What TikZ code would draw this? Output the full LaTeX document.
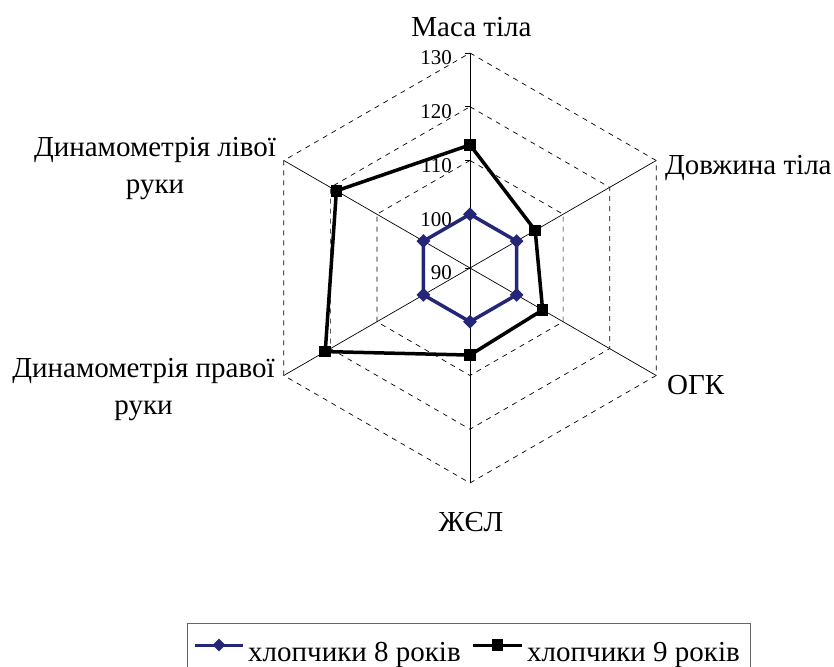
\documentclass[tikz,border=0pt]{standalone}
\usepackage{fontspec}
\setmainfont{Liberation Serif}
\usetikzlibrary{shapes.geometric}
\definecolor{navy}{RGB}{38,38,120}
\begin{document}
\begin{tikzpicture}[x=1pt,y=1pt,
  gridline/.style={draw=black,line width=0.7pt,dash pattern=on 5pt off 5pt},
  axisline/.style={draw=black,line width=0.7pt},
  axlabel/.style={font=\fontsize{29}{37}\selectfont,inner sep=0pt},
  ticklabel/.style={font=\fontsize{21}{24}\selectfont,inner sep=0pt,anchor=base east},
  bluemark/.style={diamond,fill=navy,draw=none,minimum size=14pt,inner sep=0pt},
  blackmark/.style={rectangle,fill=black,draw=none,minimum size=11.5pt,inner sep=0pt},
  blueline/.style={draw=navy,line width=3.5pt},
  blackline/.style={draw=black,line width=3.5pt}]
\useasboundingbox (0,0) rectangle (834,666);
\begin{scope}[shift={(470,398)}]
  % rings
  \foreach \v in {100,110,120,130}{
    \pgfmathsetmacro{\r}{(\v-90)*5.375}
    \draw[gridline] (90:\r) -- (30:\r) -- (-30:\r) -- (-90:\r) -- (210:\r) -- (150:\r) -- cycle;
  }
  % spokes
  \coordinate (c) at (0,0);
  \foreach \a/\n in {90/m,30/d,-30/o,-90/z,210/p,150/l}{
    \coordinate (ax\n) at (\a:215);
    \draw[axisline] (c) -- (ax\n);
  }
  % ticks and tick labels
  \foreach \v in {90,100,110,120,130}{
    \pgfmathsetmacro{\r}{(\v-90)*5.375}
    \draw[axisline] (-5,\r) -- (0,\r);
    \node[ticklabel] at (-18,\r-12) {\v};
  }
  % axis labels
  \node[axlabel,anchor=base] (lm) at (1.5,231) {Маса тіла};
  \node[axlabel,anchor=base west] (ld) at (195,93) {Довжина тіла};
  \node[axlabel,anchor=base west] (lo) at (197,-127) {ОГК};
  \node[axlabel,anchor=base] (lz) at (1,-263.5) {ЖЄЛ};
  \node[axlabel,align=center,anchor=base] (lp) at (-326.5,-147) {Динамометрія правої\\руки};
  \node[axlabel,align=center,anchor=base] (ll) at (-315,74) {Динамометрія лівої\\руки};
  % series 8 years
  \foreach \a/\n in {90/1,30/2,-30/3,-90/4,210/5,150/6}{
    \coordinate (b\n) at (\a:53.75);
  }
  \draw[blueline,line join=miter] (b1) -- (b2) -- (b3) -- (b4) -- (b5) -- (b6) -- cycle;
  \foreach \n in {1,...,6}{ \node[bluemark] (mb\n) at (b\n) {}; }
  % series 9 years
  \foreach \a/\v/\n in {90/112.9/1,30/104/2,-30/105.6/3,-90/106.2/4,210/121.1/5,150/118.7/6}{
    \pgfmathsetmacro{\r}{(\v-90)*5.375}
    \coordinate (k\n) at (\a:\r);
  }
  \draw[blackline,line join=miter] (k1) -- (k2) -- (k3) -- (k4) -- (k5) -- (k6) -- cycle;
  \foreach \n in {1,...,6}{ \node[blackmark] (mk\n) at (k\n) {}; }
\end{scope}
% legend
\draw[draw=black!60,line width=0.8pt] (187,-5) rectangle (750,43);
\coordinate (lb1) at (195,21); \coordinate (lb2) at (243,21);
\draw[blueline,line width=3pt] (lb1) -- (lb2);
\node[bluemark,minimum size=13pt] (lbm) at (219,21) {};
\node[axlabel,anchor=base west] (lt8) at (248,4.5) {хлопчики 8 років};
\coordinate (lk1) at (473,21); \coordinate (lk2) at (522,21);
\draw[blackline,line width=3pt] (lk1) -- (lk2);
\node[blackmark] (lkm) at (497.5,21) {};
\node[axlabel,anchor=base west] (lt9) at (527,4.5) {хлопчики 9 років};
\end{tikzpicture}
\end{document}
